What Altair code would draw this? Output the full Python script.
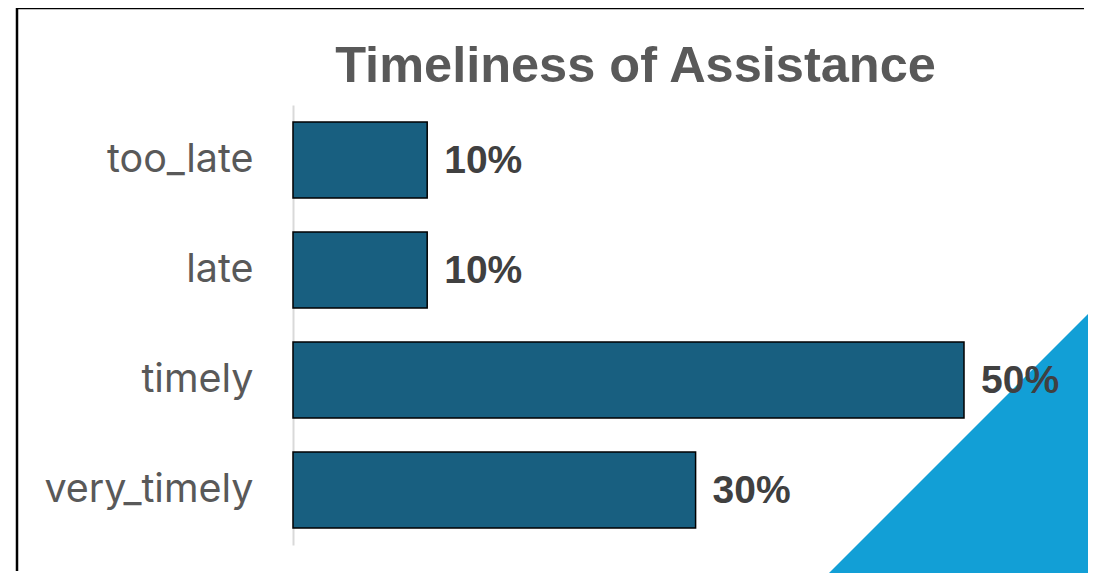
import altair as alt
import pandas as pd

categories = ["too_late", "late", "timely", "very_timely"]
values = [10, 10, 50, 30]
labels = ["10%", "10%", "50%", "30%"]
title_text = ["Timeliness of Assistance"]

df = pd.DataFrame({"cat": categories, "val": values, "lab": labels})

PX_PER = 13.42
DOMAIN_MAX = 50
W = PX_PER * DOMAIN_MAX  # plot width
H = 440
PAD_L, PAD_T = 285, 97
TOTAL_W, TOTAL_H = 1080, 565

yenc = alt.Y("cat:N", sort=categories,
             scale=alt.Scale(paddingInner=0.31, paddingOuter=0.155),
             axis=alt.Axis(title=None, ticks=False, labelPadding=40, labelLimit=400,
                           labelFont="Inter", labelFontSize=39.5, labelColor="#595959",
                           domainColor="#d9d9d9", domainWidth=2, grid=False))
xenc = alt.X("val:Q", scale=alt.Scale(domain=[0, DOMAIN_MAX], nice=False), axis=None)

one = pd.DataFrame({"d": [0]})

# decorations: slide border (top and left edges) and corner triangle
border_top = alt.Chart(one).mark_rule(color="#000000", strokeWidth=2.5, strokeCap="butt").encode(
    x=alt.value(-276), x2=alt.value(791), y=alt.value(-97))
border_left = alt.Chart(one).mark_rule(color="#000000", strokeWidth=2.5, strokeCap="butt").encode(
    x=alt.value(-276), y=alt.value(-98), y2=alt.value(466))

triangle = alt.Chart(one).mark_point(
    shape="M -1 1 L 1 -1 L 1 1 Z", filled=True, fill="#129fd6", opacity=1,
    strokeWidth=0, size=160000
).encode(x=alt.value(707), y=alt.value(297))

title = alt.Chart(pd.DataFrame({"t": title_text})).mark_text(
    align="center", baseline="alphabetic", font="Liberation Sans",
    fontSize=50.5, fontWeight="bold", color="#595959"
).encode(x=alt.value(342.5), y=alt.value(-23), text="t:N")

bars = alt.Chart(df).mark_bar(
    color="#185f80", stroke="#000000", strokeWidth=1.5, cornerRadius=0
).encode(y=yenc, x=xenc)

text = alt.Chart(df).mark_text(
    align="left", baseline="middle", dx=17, dy=1, font="Liberation Sans",
    fontSize=39, fontWeight="bold", color="#404040"
).encode(y=alt.Y("cat:N", sort=categories), x="val:Q", text="lab:N")

chart = alt.layer(border_top, border_left, triangle, title, bars, text).properties(
    width=W, height=H,
    background="#ffffff",
    autosize=alt.AutoSizeParams(type="none"),
    padding={"left": PAD_L, "top": PAD_T, "right": TOTAL_W - PAD_L - W,
             "bottom": TOTAL_H - PAD_T - H},
).configure_view(stroke=None)

chart.save("out.html", embed_options={"renderer": "svg", "actions": False})
